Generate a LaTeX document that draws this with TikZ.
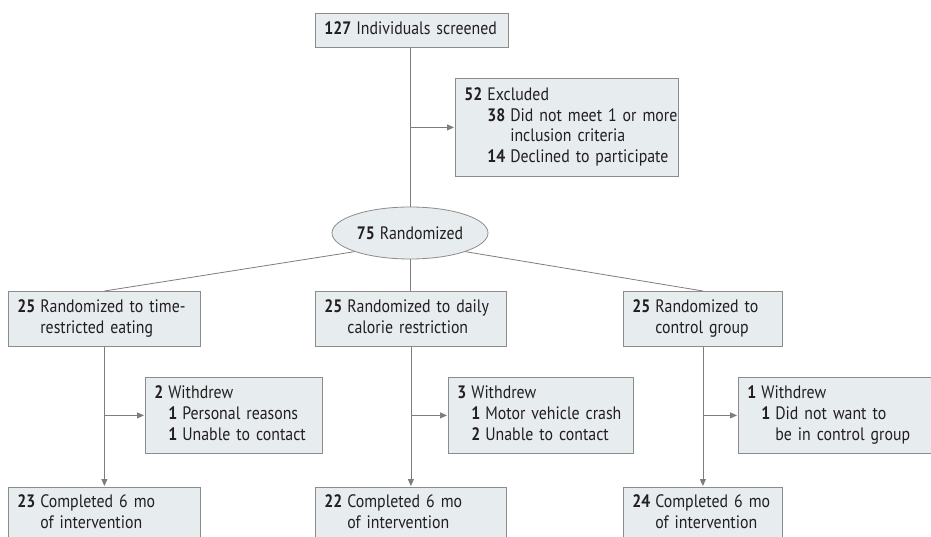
\documentclass[tikz,border=0pt]{standalone}
\usepackage{fontspec}
\setmainfont{PT Sans}[FakeStretch=0.88]
\usetikzlibrary{arrows.meta,shapes.geometric}
\definecolor{boxfill}{RGB}{231,236,239}
\definecolor{boxline}{RGB}{140,140,140}
\definecolor{linkgray}{RGB}{125,125,125}
\definecolor{inkgray}{RGB}{35,31,32}
\newcommand{\nb}[1]{\textbf{#1}}
\newcommand{\flowfont}{\fontsize{18}{20.6}\selectfont}
\tikzset{
  box/.style={draw=boxline, fill=boxfill, line width=0.8pt, anchor=north west, inner xsep=9pt, inner ysep=0pt, align=left, text=inkgray, font=\flowfont},
  link/.style={draw=linkgray, line width=0.8pt},
  arr/.style={link, -{Triangle[length=7pt,width=6pt]}, shorten >=1pt},
}

\begin{document}
\begin{tikzpicture}[x=1pt,y=-1pt]
            \useasboundingbox (0,0) rectangle (931,537);
            \clip (0,0) rectangle (931,537);
            \node[box, text width=175pt, minimum height=34pt] (screen) at (315,13) {\begin{tabular}{@{}r@{\hspace{5pt}}l@{}}\nb{127} & Individuals screened\end{tabular}};
            \node[box, text width=205pt, minimum height=98pt] (excl) at (455,78) {\begin{tabular}{@{}r@{\hspace{5pt}}r@{\hspace{5pt}}l@{}}\nb{52} & \multicolumn{2}{@{}l@{}}{Excluded}\\ & \nb{38} & Did not meet 1 or more\\ & & inclusion criteria\\ & \nb{14} & Declined to participate\end{tabular}};
            \node[draw=boxline, fill=boxfill, line width=0.8pt, ellipse, minimum width=156pt, minimum height=52pt, inner sep=0pt, text=inkgray, font=\flowfont] (rand) at (410,233) {\nb{75}\hspace{5pt}Randomized};
            \node[box, text width=174pt, minimum height=55pt] (tre) at (8,291) {\begin{tabular}{@{}r@{\hspace{5pt}}l@{}}\nb{25} & Randomized to time-\\ & restricted eating\end{tabular}};
            \node[box, text width=173pt, minimum height=55pt] (dcr) at (315,291) {\begin{tabular}{@{}r@{\hspace{5pt}}l@{}}\nb{25} & Randomized to daily\\ & calorie restriction\end{tabular}};
            \node[box, text width=141pt, minimum height=55pt] (ctl) at (623,291) {\begin{tabular}{@{}r@{\hspace{5pt}}l@{}}\nb{25} & Randomized to\\ & control group\end{tabular}};
            \node[box, text width=159pt, minimum height=76pt] (wd1) at (145,377) {\begin{tabular}{@{}r@{\hspace{5pt}}r@{\hspace{5pt}}l@{}}\nb{2} & \multicolumn{2}{@{}l@{}}{Withdrew}\\ & \nb{1} & Personal reasons\\ & \nb{1} & Unable to contact\end{tabular}};
            \node[box, text width=167pt, minimum height=76pt] (wd2) at (448,377) {\begin{tabular}{@{}r@{\hspace{5pt}}r@{\hspace{5pt}}l@{}}\nb{3} & \multicolumn{2}{@{}l@{}}{Withdrew}\\ & \nb{1} & Motor vehicle crash\\ & \nb{2} & Unable to contact\end{tabular}};
            \node[box, text width=176pt, minimum height=76pt] (wd3) at (738,377) {\begin{tabular}{@{}r@{\hspace{5pt}}r@{\hspace{5pt}}l@{}}\nb{1} & \multicolumn{2}{@{}l@{}}{Withdrew}\\ & \nb{1} & Did not want to\\ & & be in control group\end{tabular}};
            \node[box, text width=174pt, minimum height=53pt] (cp1) at (8,487) {\begin{tabular}{@{}r@{\hspace{5pt}}l@{}}\nb{23} & Completed 6 mo\\ & of intervention\end{tabular}};
            \node[box, text width=173pt, minimum height=53pt] (cp2) at (315,487) {\begin{tabular}{@{}r@{\hspace{5pt}}l@{}}\nb{22} & Completed 6 mo\\ & of intervention\end{tabular}};
            \node[box, text width=141pt, minimum height=53pt] (cp3) at (623,487) {\begin{tabular}{@{}r@{\hspace{5pt}}l@{}}\nb{24} & Completed 6 mo\\ & of intervention\end{tabular}};
            \draw[link] (rand.north |- screen.south) -- (rand.north);
            \draw[arr] (rand.north |- excl.west) -- (excl.west);
            \draw[link] (rand.south west) -- (tre.north);
            \draw[link] (rand.south) -- (rand.south |- dcr.north);
            \draw[link] (rand.south east) -- (ctl.north);
            \draw[arr] (tre.south) -- (cp1.north);
            \draw[arr] (tre.south |- wd1.west) -- (wd1.west);
            \draw[arr] (dcr.south) -- (cp2.north);
            \draw[arr] (dcr.south |- wd2.west) -- (wd2.west);
            \draw[arr] (ctl.south) -- (cp3.north);
            \draw[arr] (ctl.south |- wd3.west) -- (wd3.west);
        \end{tikzpicture}
\end{document}
